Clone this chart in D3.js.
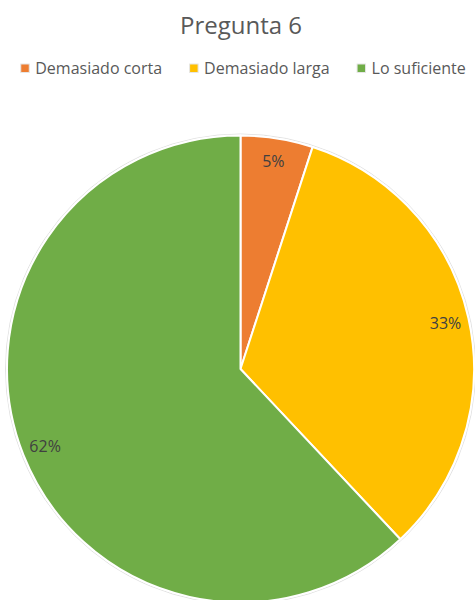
<!DOCTYPE html>
<html>
<head>
<meta charset="utf-8">
<script src="https://cdn.jsdelivr.net/npm/d3@7"></script>
<style>
  body { margin: 0; background: #fff; }
  svg { display: block; font-family: "Open Sans", sans-serif; }
</style>
</head>
<body>
<svg id="chart" width="475" height="600"></svg>
<script>
const categories = ['Demasiado corta', 'Demasiado larga', 'Lo suficiente'];
const values = [5, 33, 62];
const labels = ['5%', '33%', '62%'];
const colors = ['#ED7D31', '#FFC000', '#70AD47'];
const title = 'Pregunta 6';

const svg = d3.select('#chart');
const cx = 240.5, cy = 369, radius = 233.5;

// title
svg.append('text')
  .attr('x', 241).attr('y', 34)
  .attr('text-anchor', 'middle')
  .attr('font-size', 24)
  .attr('fill', '#595959')
  .text(title);

// legend
const legend = svg.append('g');
let lx = 0;
categories.forEach((c, i) => {
  let item = legend.append('g').attr('transform', 'translate(' + lx + ',0)');
  item.append('rect').attr('x', 0.5).attr('y', 64).attr('width', 8.5).attr('height', 8.5)
      .attr('fill', colors[i]).attr('stroke', '#e6e6e6').attr('stroke-width', 1);
  let t = item.append('text').attr('x', 15).attr('y', 74)
      .attr('font-size', 16).attr('fill', '#595959').text(c);
  lx += 15 + t.node().getComputedTextLength() + 27;
});
const lw = lx - 27;
legend.attr('transform', 'translate(' + (243 - lw / 2) + ',0)');

// pie
const pie = d3.pie().sort(null).value(d => d);
const arcs = pie(values);
const arc = d3.arc().innerRadius(0).outerRadius(radius);
const labelArc = d3.arc().innerRadius(radius * 0.9).outerRadius(radius * 0.9);

const g = svg.append('g').attr('transform', 'translate(' + cx + ',' + cy + ')');

// faint outer rim
g.append('circle').attr('r', radius + 1.5)
  .attr('fill', 'none').attr('stroke', '#d9d9d9').attr('stroke-width', 0.8);

g.selectAll('path.slice').data(arcs).enter().append('path')
  .attr('class', 'slice')
  .attr('d', arc)
  .attr('fill', (d, i) => colors[i])
  .attr('stroke', '#fff')
  .attr('stroke-width', 2)
  .attr('stroke-linejoin', 'round');

g.selectAll('text.lbl').data(arcs).enter().append('text')
  .attr('class', 'lbl')
  .attr('transform', d => 'translate(' + labelArc.centroid(d) + ')')
  .attr('text-anchor', 'middle')
  .attr('dy', '0.35em')
  .attr('font-size', 16)
  .attr('fill', '#404040')
  .text((d, i) => labels[i]);
</script>
</body>
</html>
